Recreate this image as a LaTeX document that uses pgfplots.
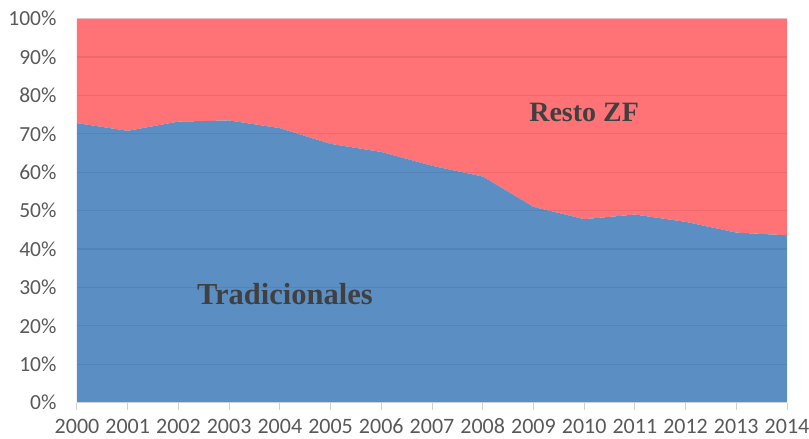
\documentclass[border=0pt]{standalone}
\usepackage{fontspec}
\setmainfont{Carlito}
\newfontfamily\annfont{Liberation Serif}
\usepackage{pgfplots}
\pgfplotsset{compat=1.18}
\definecolor{blueA}{HTML}{5B8FC4}
\definecolor{redA}{HTML}{FF7276}
\definecolor{tickgray}{HTML}{595959}
\definecolor{anngray}{HTML}{404040}
\begin{document}
\begin{tikzpicture}
\useasboundingbox (-77pt,-36.3pt) rectangle (732pt,402.7pt);
\begin{axis}[
  at={(0pt,0pt)}, anchor=south west,
  scale only axis, width=710pt, height=384pt,
  xmin=2000, xmax=2014, ymin=0, ymax=100,
  stack plots=y,
  xtick={2000,2001,...,2014},
  xticklabels={2000,2001,2002,2003,2004,2005,2006,2007,2008,2009,2010,2011,2012,2013,2014},
  ytick={0,10,...,100},
  yticklabel={\pgfmathprintnumber{\tick}\%},
  /pgf/number format/assume math mode=true,
  yticklabel style={font=\fontsize{21.5}{25}\selectfont, text=tickgray, xshift=-10pt},
  xticklabel style={font=\fontsize{22}{26}\selectfont, text=tickgray, anchor=north,
     inner sep=0pt, text height=14pt, text depth=0pt, yshift=-10pt},
  axis lines*=left,
  x axis line style={draw=black!18, line width=1pt},
  y axis line style={draw=none},
  tick align=outside,
  major tick length=7pt,
  xtick style={draw=black!18, line width=1pt},
  ytick style={draw=none},
  ymajorgrids,
  grid style={draw=black, opacity=0.07, line width=1.2pt},
  axis on top,
  clip=false,
]
\addplot[draw=none, fill=blueA] coordinates {
(2000,72.8) (2001,70.8) (2002,73.2) (2003,73.5) (2004,71.5) (2005,67.4) (2006,65.3) (2007,61.7)
(2008,58.9) (2009,51.0) (2010,47.8) (2011,49.0) (2012,47.1) (2013,44.3) (2014,43.6)
} \closedcycle;
\addplot[draw=none, fill=redA] coordinates {
(2000,27.2) (2001,29.2) (2002,26.8) (2003,26.5) (2004,28.5) (2005,32.6) (2006,34.7) (2007,38.3)
(2008,41.1) (2009,49.0) (2010,52.2) (2011,51.0) (2012,52.9) (2013,55.7) (2014,56.4)
} \closedcycle;
\coordinate (tA) at (axis cs:2004.1,28.3);
\coordinate (tB) at (axis cs:2010.0,75.7);
\end{axis}
\node[font=\annfont\bfseries\fontsize{30.5}{34}\selectfont, text=anngray] at (tA) {Tradicionales};
\node[font=\annfont\bfseries\fontsize{28}{32}\selectfont, text=anngray] at (tB) {Resto ZF};
\end{tikzpicture}
\end{document}
